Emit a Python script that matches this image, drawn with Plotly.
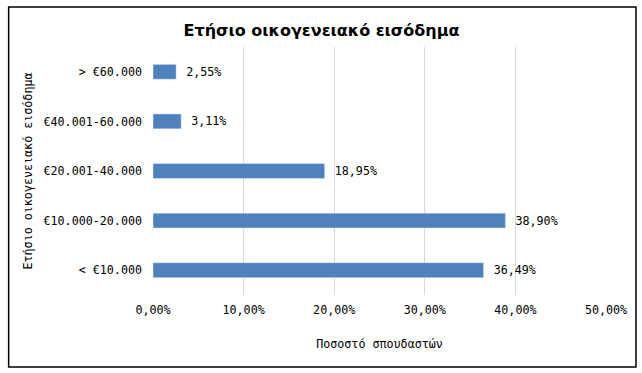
import plotly.graph_objects as go

categories = ["< €10.000", "€10.000-20.000", "€20.001-40.000", "€40.001-60.000", "> €60.000"]
values = [0.3649, 0.3890, 0.1895, 0.0311, 0.0255]

W, H = 642, 373
L, R, T, B = 152.5, 36, 47, 78
pw, ph = W - L - R, H - T - B

def px_x(p):
    return (p - L) / pw

def px_y(p):
    return (H - B - p) / ph

mono = "DejaVu Sans Mono"
fs = 11.7

fig = go.Figure(go.Bar(
    y=categories, x=values, orientation="h",
    marker=dict(color="#4F81BD"),
    width=0.3,
    texttemplate=" %{x:.2%}", textposition="outside",
    textfont=dict(family=mono, size=fs, color="#000000"),
    cliponaxis=False,
))

fig.update_layout(
    width=W, height=H,
    margin=dict(l=L, r=R, t=T, b=B, autoexpand=False),
    paper_bgcolor="white", plot_bgcolor="white",
    separators=",.",
    showlegend=False,
    title=dict(text="<b>Ετήσιο οικογενειακό εισόδημα</b>", x=321.5 / W, xanchor="center",
               y=1 - 30 / H, yanchor="middle",
               font=dict(family="DejaVu Sans", size=16, color="#000000")),
    xaxis=dict(range=[0, 0.5], dtick=0.1, tickformat=".2%", automargin=False,
               showgrid=True, gridcolor="#D9D9D9", gridwidth=1,
               zeroline=False, showline=False, ticks="",
               ticklabelstandoff=6,
               tickfont=dict(family=mono, size=fs, color="#000000"),
               title=dict(text="Ποσοστό σπουδαστών", font=dict(family=mono, size=fs, color="#000000"), standoff=24)),
    yaxis=dict(showgrid=False, zeroline=False, showline=False, ticks="", automargin=False,
               ticklabelstandoff=10,
               tickfont=dict(family=mono, size=fs, color="#000000"),
               title=dict(text="Ετήσιο οικογενειακό εισόδημα", font=dict(family=mono, size=fs, color="#000000"), standoff=8)),
    shapes=[dict(type="rect", xref="paper", yref="paper",
                 x0=px_x(8), x1=px_x(636), y0=px_y(367), y1=px_y(7),
                 line=dict(color="#000000", width=1.5), fillcolor="rgba(0,0,0,0)", layer="below")],
)

fig.write_html("out.html", config={"displayModeBar": False},
               post_script="document.body.style.margin='0';document.body.style.overflow='hidden';")
